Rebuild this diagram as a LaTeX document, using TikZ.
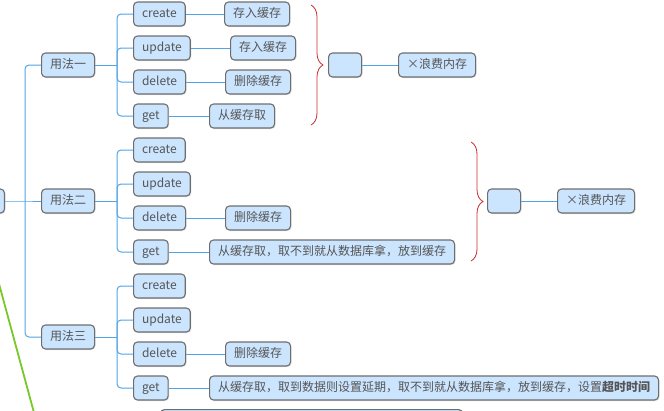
\documentclass[tikz,border=0pt]{standalone}
\usepackage{fontspec}
\setmainfont{Noto Sans CJK SC}
\definecolor{mmfill}{RGB}{204,229,255}
\definecolor{mmdraw}{RGB}{110,110,110}
\definecolor{mmtext}{RGB}{85,85,85}
\definecolor{mmblue}{RGB}{80,165,230}
\definecolor{mmred}{RGB}{200,45,45}
\definecolor{mmgreen}{RGB}{120,200,40}
\usetikzlibrary{decorations.pathreplacing,shadows}

\begin{document}
\begin{tikzpicture}[
  x=1pt,y=-1pt,
  every node/.style={font=\fontsize{12}{14}\selectfont,text=mmtext},
  topic/.style={draw=mmdraw,fill=mmfill,line width=1.1pt,rounded corners=4pt,
                minimum height=24pt,inner xsep=8.5pt,text height=9.5pt,text depth=2.5pt,
                anchor=west,
                drop shadow={opacity=0.25,shadow xshift=1pt,shadow yshift=-1pt}},
  link/.style={mmblue,line width=1pt},
  elbow/.style={link,rounded corners=4pt},
  bracket/.style={mmred,line width=0.8pt,decorate,decoration={brace,amplitude=12pt,aspect=0.5}},
]
  \clip (0,0) rectangle (664,410);

  % root (cut off at the left edge)
  \node[topic,anchor=east,minimum width=40pt] (root) at (5,201) {};
  \coordinate (trunk) at (25,201);

  % 用法 layer
  \node[topic] (way1) at (41,65) {用法一};
  \node[topic] (way2) at (41,201) {用法二};
  \node[topic] (way3) at (41,337) {用法三};
  \coordinate (j1) at (117,65);
  \coordinate (j2) at (117,201);
  \coordinate (j3) at (117,337);

  % 用法一
  \node[topic] (create1) at (133,14) {create};
  \node[topic] (update1) at (133,48) {update};
  \node[topic] (delete1) at (133,82) {delete};
  \node[topic] (get1) at (133,116) {get};
  \node[topic] (store1a) at (224,14) {存入缓存};
  \node[topic] (store1b) at (230,48) {存入缓存};
  \node[topic] (remove1) at (225,82) {删除缓存};
  \node[topic] (fetch1) at (209,116) {从缓存取};

  % 用法二
  \node[topic] (create2) at (133,150) {create};
  \node[topic] (update2) at (133,184) {update};
  \node[topic] (delete2) at (133,218) {delete};
  \node[topic] (get2) at (133,252) {get};
  \node[topic] (remove2) at (225,218) {删除缓存};
  \node[topic] (fetch2) at (209,252) {从缓存取，取不到就从数据库拿，放到缓存};

  % 用法三
  \node[topic] (create3) at (133,286) {create};
  \node[topic] (update3) at (133,320) {update};
  \node[topic] (delete3) at (133,354) {delete};
  \node[topic] (get3) at (133,388) {get};
  \node[topic] (remove3) at (225,354) {删除缓存};
  \node[topic] (fetch3) at (209,388)
    {从缓存取，取到数据则设置延期，取不到就从数据库拿，放到缓存，设置{\bfseries 超时时间}};

  % summaries
  \node[topic,minimum width=33pt] (sum1) at (328,65) {};
  \node[topic] (waste1) at (398,65) {×浪费内存};
  \node[topic,minimum width=33pt] (sum2) at (487,201) {};
  \node[topic] (waste2) at (557,201) {×浪费内存};

  % next topic (cut off at the bottom edge)
  \node[topic,anchor=north west,minimum width=302pt] (more) at (160,409) {};

  % Arrows
  \draw[link] (root) -- (trunk) -- (way2);
  \draw[elbow] (trunk) |- (way1);
  \draw[elbow] (trunk) |- (way3);
  \draw[link] (way1) -- (j1);
  \draw[link] (way2) -- (j2);
  \draw[link] (way3) -- (j3);
  \draw[elbow] (j1) |- (create1);
  \draw[elbow] (j1) |- (update1);
  \draw[elbow] (j1) |- (delete1);
  \draw[elbow] (j1) |- (get1);
  \draw[elbow] (j2) |- (create2);
  \draw[elbow] (j2) |- (update2);
  \draw[elbow] (j2) |- (delete2);
  \draw[elbow] (j2) |- (get2);
  \draw[elbow] (j3) |- (create3);
  \draw[elbow] (j3) |- (update3);
  \draw[elbow] (j3) |- (delete3);
  \draw[elbow] (j3) |- (get3);
  \draw[link] (create1) -- (store1a);
  \draw[link] (update1) -- (store1b);
  \draw[link] (delete1) -- (remove1);
  \draw[link] (get1) -- (fetch1);
  \draw[link] (delete2) -- (remove2);
  \draw[link] (get2) -- (fetch2);
  \draw[link] (delete3) -- (remove3);
  \draw[link] (get3) -- (fetch3);
  \draw[link] (sum1) -- (waste1);
  \draw[link] (sum2) -- (waste2);

  % Braces
  \coordinate (b1top) at (311,5);
  \coordinate (b1bot) at (311,125);
  \coordinate (b2top) at (471,142);
  \coordinate (b2bot) at (471,261);
  \draw[bracket] (b1top) -- (b1bot);
  \draw[bracket] (b2top) -- (b2bot);

  % relation line
  \coordinate (g1) at (-8,258);
  \coordinate (g2) at (36,420);
  \draw[mmgreen,line width=1.8pt] (g1) -- (g2);
\end{tikzpicture}
\end{document}
